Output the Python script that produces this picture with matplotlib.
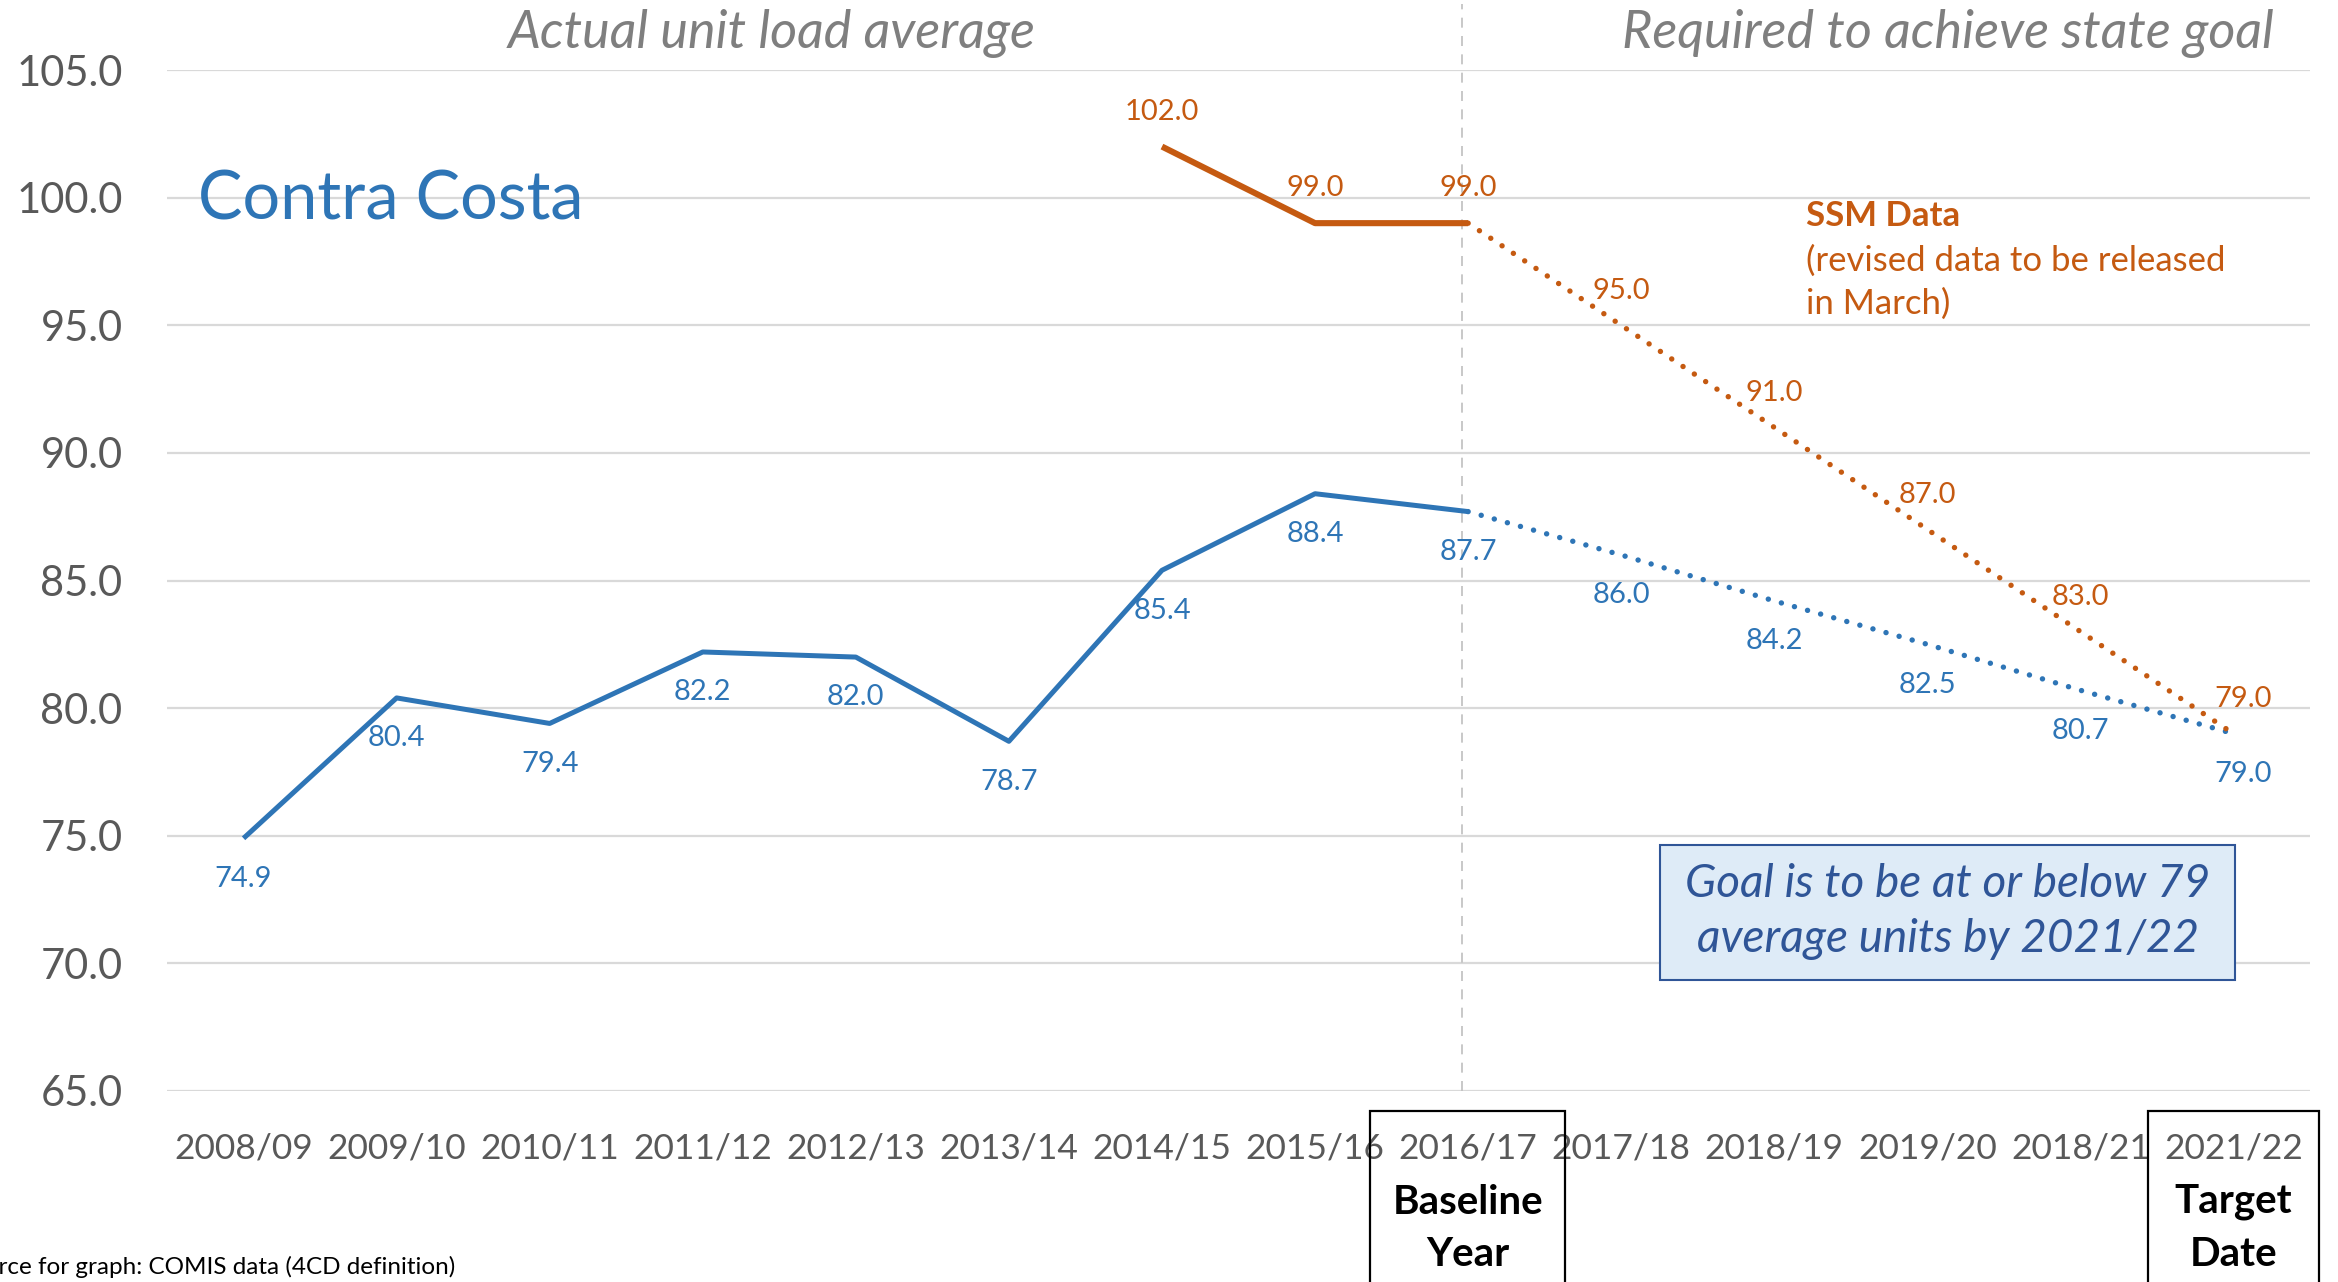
import matplotlib
matplotlib.use("Agg")
import matplotlib.pyplot as plt
from matplotlib.patches import Rectangle
from matplotlib.transforms import blended_transform_factory

plt.rcParams['font.family'] = ['Lato', 'DejaVu Sans']

categories = ["2008/09", "2009/10", "2010/11", "2011/12", "2012/13", "2013/14", "2014/15",
              "2015/16", "2016/17", "2017/18", "2018/19", "2019/20", "2018/21", "2021/22"]
actual_idx = [0, 1, 2, 3, 4, 5, 6, 7, 8]
actual_vals = [74.9, 80.4, 79.4, 82.2, 82.0, 78.7, 85.4, 88.4, 87.7]
required_idx = [8, 9, 10, 11, 12, 13]
required_vals = [87.7, 86.0, 84.2, 82.5, 80.7, 79.0]
ssm_idx = [6, 7, 8]
ssm_vals = [102.0, 99.0, 99.0]
ssm_req_idx = [8, 9, 10, 11, 12, 13]
ssm_req_vals = [99.0, 95.0, 91.0, 87.0, 83.0, 79.0]
yticks = [65, 70, 75, 80, 85, 90, 95, 100, 105]

BLUE = "#2E75B6"
ORANGE = "#C55A11"
GRAY = "#595959"

W, H = 2338, 1282
fig = plt.figure(figsize=(W / 100, H / 100), dpi=100)


def px(x, y):
    return x / W, 1 - y / H


ax = fig.add_axes([167 / W, 1 - 1091 / H, (2310 - 167) / W, (1091 - 70) / H])
ax.set_xlim(-0.5, 13.5)
ax.set_ylim(65, 105)
for s in ax.spines.values():
    s.set_visible(False)
ax.set_yticks(yticks)
ax.set_yticklabels([f"{v:.1f}" for v in yticks])
ax.set_xticks(range(len(categories)))
ax.set_xticklabels(categories)
ax.tick_params(axis='y', length=0, pad=32, labelsize=30, labelcolor=GRAY)
ax.tick_params(axis='x', length=0, pad=30, labelsize=25.5, labelcolor=GRAY)
ax.grid(axis='y', color="#D9D9D9", linewidth=1.6)
ax.set_axisbelow(True)

# vertical dashed baseline divider
ax.plot([7.96, 7.96], [65, 107.6], color="#BFBFBF", lw=1.2, ls=(0, (6, 5)), clip_on=False, zorder=1)

# lines
ax.plot(actual_idx, actual_vals, color=BLUE, lw=3.6, solid_capstyle='butt', zorder=3)
ax.plot(required_idx, required_vals, color=BLUE, lw=3.9, ls=(0, (0.01, 2.5)),
        dash_capstyle='round', zorder=3)
ax.plot(ssm_idx, ssm_vals, color=ORANGE, lw=4.4, solid_capstyle='butt', zorder=3)
ax.plot(ssm_req_idx, ssm_req_vals, color=ORANGE, lw=3.9, ls=(0, (0.01, 2.5)),
        dash_capstyle='round', zorder=3)

# labels
lab_fs = 21
blue_pts = list(zip(actual_idx, actual_vals)) + list(zip(required_idx[1:], required_vals[1:]))
for i, v in blue_pts:
    dx = 7 if i == 13 else 0
    ax.annotate(f"{v:.1f}", (i, v), xytext=(dx, -29), textcoords='offset points',
                ha='center', va='center', fontsize=lab_fs, color=BLUE)
orange_pts = list(zip(ssm_idx, ssm_vals)) + list(zip(ssm_req_idx[1:], ssm_req_vals[1:]))
for i, v in orange_pts:
    dx = 7 if i == 13 else 0
    ax.annotate(f"{v:.1f}", (i, v), xytext=(dx, 25), textcoords='offset points',
                ha='center', va='center', fontsize=lab_fs, color=ORANGE)

# headers
fig.text(*px(772, 34), "Actual unit load average", ha='center', va='center',
         fontsize=37.5, style='italic', color="#7F7F7F")
fig.text(*px(2274, 34), "Required to achieve state goal", ha='right', va='center',
         fontsize=37.5, style='italic', color="#7F7F7F")

fig.text(*px(198, 200), "Contra Costa", ha='left', va='center', fontsize=48, color=BLUE)

fig.text(*px(1806, 216), "SSM Data", ha='left', va='center', fontsize=25,
         fontweight='bold', color=ORANGE)
fig.text(*px(1806, 261), "(revised data to be released", ha='left', va='center',
         fontsize=25, color=ORANGE)
fig.text(*px(1806, 304), "in March)", ha='left', va='center', fontsize=25, color=ORANGE)

# goal box
x0, y0 = px(1660, 980)
x1, y1 = px(2235, 845)
fig.patches.append(Rectangle((x0, y0), x1 - x0, y1 - y0, transform=fig.transFigure,
                             facecolor="#DEEBF7", edgecolor="#2F5597", lw=1.5, zorder=5))
fig.text(*px(1948, 884), "Goal is to be at or below 79", ha='center', va='center',
         fontsize=33, style='italic', color="#2F5597", zorder=6)
fig.text(*px(1948, 939), "average units by 2021/22", ha='center', va='center',
         fontsize=33, style='italic', color="#2F5597", zorder=6)

# bottom boxes
bt = blended_transform_factory(ax.transData, fig.transFigure)
top = 1 - 1111 / H
for xa, xb, l1, l2, xc in [(7.36, 8.63, "Baseline", "Year", 8), (12.44, 13.56, "Target", "Date", 13)]:
    fig.patches.append(Rectangle((xa, -0.1), xb - xa, top + 0.1, transform=bt,
                                 facecolor='none', edgecolor='black', lw=1.6))
    fig.text(xc, 1 - 1202 / H, l1, transform=bt, ha='center', va='center',
             fontsize=29, fontweight='bold', color='black')
    fig.text(xc, 1 - 1254 / H, l2, transform=bt, ha='center', va='center',
             fontsize=29, fontweight='bold', color='black')

# source note (cut off at the left edge, as in the reference)
fig.text(*px(455, 1267), "Source for graph: COMIS data (4CD definition)", ha='right',
         va='center', fontsize=17.5, color='black')

fig.savefig("out.png", dpi=100)
